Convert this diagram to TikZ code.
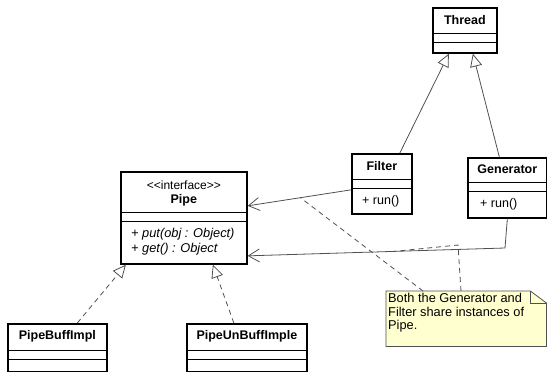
\documentclass[tikz,border=0pt]{standalone}
\usepackage{fontspec}
\setmainfont{Liberation Sans}
\usetikzlibrary{arrows.meta,calc}
\definecolor{conncol}{RGB}{80,80,80}
\definecolor{notefill}{RGB}{255,255,208}
\newcommand\umlclass[6]{%
  \node[classbox, minimum width=#4pt, minimum height=#5pt] (#1) at (#2,#3) {};
  \draw[cline] ([yshift=-#6pt]#1.north west) -- ([yshift=-#6pt]#1.north east);
  \draw[cline] ([yshift=-#6pt-9pt]#1.north west) -- ([yshift=-#6pt-9pt]#1.north east);}
\begin{document}
\begin{tikzpicture}[x=1pt,y=-1pt,
  classbox/.style={draw=black, line width=1.7pt, fill=white, rectangle, inner sep=0pt, anchor=north west},
  cline/.style={line width=0.8pt, draw=black},
  cname/.style={font=\fontsize{12.5}{14}\selectfont\bfseries, inner sep=0pt},
  member/.style={font=\fontsize{12.5}{14}\selectfont, inner sep=0pt, anchor=west},
  imember/.style={member, font=\fontsize{12.8}{14}\selectfont\itshape},
  conn/.style={draw=conncol, line width=0.8pt},
  gen/.style={conn, -{Triangle[open, length=13pt, width=12pt, fill=white]}},
  real/.style={gen, dash pattern=on 5pt off 4pt},
  assoc/.style={conn, -{Straight Barb[length=11pt, width=13pt]}},
  notelink/.style={conn, dash pattern=on 5pt off 4pt},
  notetext/.style={font=\fontsize{12.8}{13.5}\selectfont, align=left, inner sep=0pt, anchor=north west}
]
\useasboundingbox (0,0) rectangle (547,372);

% classes
\umlclass{thread}{432}{7}{64}{45}{26}
\node[cname] (thread-n) at ([yshift=-13pt]thread.north) {Thread};

\umlclass{filter}{351}{153}{60}{60}{26}
\node[cname] (filter-n) at ([yshift=-13pt]filter.north) {Filter};
\node[member] (filter-m) at (362,201) {+ run()};

\umlclass{generator}{467}{157}{79}{60}{25}
\node[cname] (generator-n) at ([yshift=-12.5pt]generator.north) {Generator};
\node[member] (generator-m) at (480,204) {+ run()};

\umlclass{pipe}{120}{171}{126}{92}{41}
\node[font=\fontsize{12}{13}\selectfont, inner sep=0pt] (pipe-s) at ([yshift=-14pt]pipe.north) {<\kern0pt<interface>\kern0pt>};
\node[cname] (pipe-n) at ([yshift=-29pt]pipe.north) {Pipe};
\node[imember] (pipe-m1) at (131,234) {+ put(obj : Object)};
\node[imember] (pipe-m2) at (131,249) {+ get() : Object};

\umlclass{pbuff}{7}{323}{99}{48}{27}
\node[cname] (pbuff-n) at ([yshift=-13.5pt]pbuff.north) {PipeBuffImpl};

\umlclass{punbuff}{186}{323}{120}{48}{27}
\node[cname] (punbuff-n) at ([yshift=-13.5pt]punbuff.north) {PipeUnBuffImple};

% note
\node[minimum width=160pt, minimum height=55pt, inner sep=0pt, anchor=north west] (note) at (386,291) {};
\fill[notefill] (note.north west) -- ([xshift=-16pt]note.north east) -- ([yshift=-12pt]note.north east) -- (note.south east) -- (note.south west) -- cycle;
\draw[conncol, line width=0.8pt] (note.north west) -- ([xshift=-16pt]note.north east) -- ([yshift=-12pt]note.north east) -- (note.south east) -- (note.south west) -- cycle;
\draw[conncol, line width=0.8pt] ([xshift=-16pt]note.north east) -- ([xshift=-16pt,yshift=-12pt]note.north east) -- ([yshift=-12pt]note.north east);
\node[notetext] (note-t) at (388,293.5) {Both the Generator and\\Filter share instances of\\Pipe.};

% connectors
\draw[gen] ([xshift=18pt]filter.north) -- ([xshift=-16pt]thread.south);
\draw[gen] ([xshift=-8pt]generator.north) -- ([xshift=8pt]thread.south);

\coordinate (fstart) at ([yshift=-6pt]filter.west);
\coordinate (fend) at ([yshift=12pt]pipe.east);
\draw[assoc] (fstart) -- (fend);

\coordinate (gbend) at (505,248);
\coordinate (gend) at ([yshift=-38pt]pipe.east);
\draw[assoc] (generator.south) -- (gbend) -- (gend);

\draw[real] ([xshift=20pt]pbuff.north) -- ([xshift=-58pt]pipe.south);
\draw[real] ([xshift=-13pt]punbuff.north) -- ([xshift=29pt]pipe.south);

\coordinate (fmid) at ($(fstart)!0.49!(fend)$);
\coordinate (gmid) at ($(gbend)!0.43!(gend)$);
\coordinate (nbend) at (458,245);
\draw[notelink] ([xshift=37pt]note.north west) -- (fmid);
\draw[notelink] ([xshift=75pt]note.north west) -- (nbend) -- (gmid);
\end{tikzpicture}
\end{document}
